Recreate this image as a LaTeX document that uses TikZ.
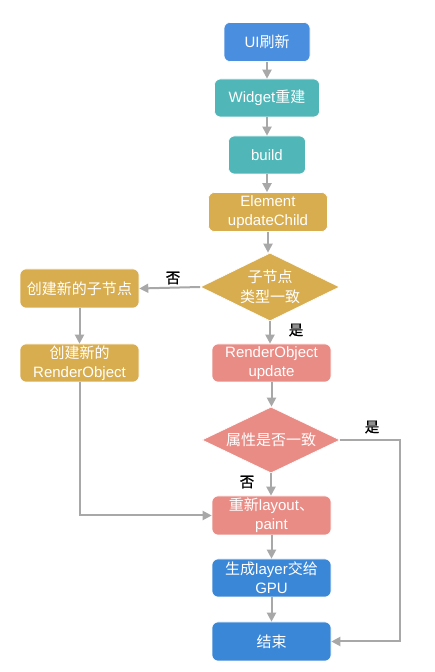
\documentclass[tikz,border=0pt]{standalone}
\usepackage{fontspec}
\setmainfont{Liberation Sans}
\newfontfamily\cjfont{Noto Sans CJK SC}
\newfontfamily\cjlblfont{Noto Sans CJK SC}[FakeBold=1.2]
\newcommand{\cj}[1]{{\cjfont #1}}
\newcommand{\cjl}[1]{{\cjlblfont #1}}
\usetikzlibrary{shapes.geometric,arrows.meta}
\definecolor{cblue}{HTML}{4A8EE0}
\definecolor{cblueb}{HTML}{3A87D8}
\definecolor{cteal}{HTML}{50B6B8}
\definecolor{cgold}{HTML}{D8AD50}
\definecolor{csalmon}{HTML}{E98C85}
\definecolor{cgray}{HTML}{A8A8A8}
\tikzset{
  box/.style={rectangle, rounded corners=6pt, draw=white, line width=0.6pt, text=white, inner sep=0pt,
    align=center, font=\fontsize{15}{19}\selectfont},
  dia/.style={diamond, draw=white, line width=0.6pt, inner sep=0pt},
  dtext/.style={text=white, inner sep=0pt, align=center, font=\fontsize{15}{20}\selectfont},
  conn/.style={draw=cgray, line width=2pt, -{Triangle[length=9pt,width=9pt]}},
  lbl/.style={font=\fontsize{14.5}{18}\selectfont, text=black}
}
\begin{document}
\begin{tikzpicture}[x=1pt,y=1pt]
\useasboundingbox (0,0) rectangle (434,672);
\node[box, fill=cblue, minimum width=86pt, minimum height=39pt] (ui) at (267,630) {UI\cj{刷新}};
\node[box, fill=cteal, minimum width=105pt, minimum height=38pt] (widget) at (267,574) {Widget\cj{重建}};
\node[box, fill=cteal, minimum width=77pt, minimum height=38pt] (build) at (267,517) {build};
\node[box, fill=cgold, minimum width=119pt, minimum height=39pt] (elem) at (268,460) {Element\\updateChild};
\node[dia, fill=cgold, minimum width=139pt, minimum height=68pt] (d1) at (270,385) {};
\node[dtext] (d1t) at (d1.center) {\cj{子节点}\\\cj{类型一致}};
\node[box, fill=cgold, minimum width=119pt, minimum height=39pt] (new) at (79.5,383.5) {\cj{创建新的子节点}};
\node[box, fill=cgold, minimum width=119pt, minimum height=38pt] (newro) at (79.5,309) {\cj{创建新的}\\RenderObject};
\node[box, fill=csalmon, minimum width=119pt, minimum height=38pt] (roup) at (271.5,309) {RenderObject\\update};
\node[dia, fill=csalmon, minimum width=138pt, minimum height=66pt] (d2) at (271,232) {};
\node[dtext] (d2t) at (d2.center) {\cj{属性是否一致}};
\node[box, fill=csalmon, minimum width=119pt, minimum height=39pt] (relayout) at (271.5,156.5) {\cj{重新}layout\cj{、}\\paint};
\node[box, fill=cblueb, minimum width=119pt, minimum height=38pt] (gpu) at (271.5,94) {\cj{生成}layer\cj{交给}\\GPU};
\node[box, fill=cblueb, minimum width=119pt, minimum height=39pt] (end) at (271.5,30.5) {\cj{结束}};
\coordinate (r) at (400,232);

\draw[conn] (ui.south) -- (ui.south |- widget.north);
\draw[conn] (widget.south) -- (widget.south |- build.north);
\draw[conn] (build.south) -- (build.south |- elem.north);
\draw[conn] (elem.south) -- (elem.south |- d1.north);
\draw[conn] (d1.west) -- (new.east);
\draw[conn] (new.south) -- (newro.north);
\draw[conn] (d1.south) -- (d1.south |- roup.north);
\draw[conn] (roup.south) -- (roup.south |- d2.north);
\draw[conn] (d2.south) -- (d2.south |- relayout.north);
\draw[conn] (newro.south) |- (relayout.west);
\draw[conn] (relayout.south) -- (gpu.north);
\draw[conn] (gpu.south) -- (end.north);
\draw[conn] (d2.east) -- (r) |- (end.east);

\node[lbl] (no1) at (173,394) {\cjl{否}};
\node[lbl] (yes1) at (296,342) {\cjl{是}};
\node[lbl] (yes2) at (372,245) {\cjl{是}};
\node[lbl] (no2) at (247,190) {\cjl{否}};
\end{tikzpicture}
\end{document}
